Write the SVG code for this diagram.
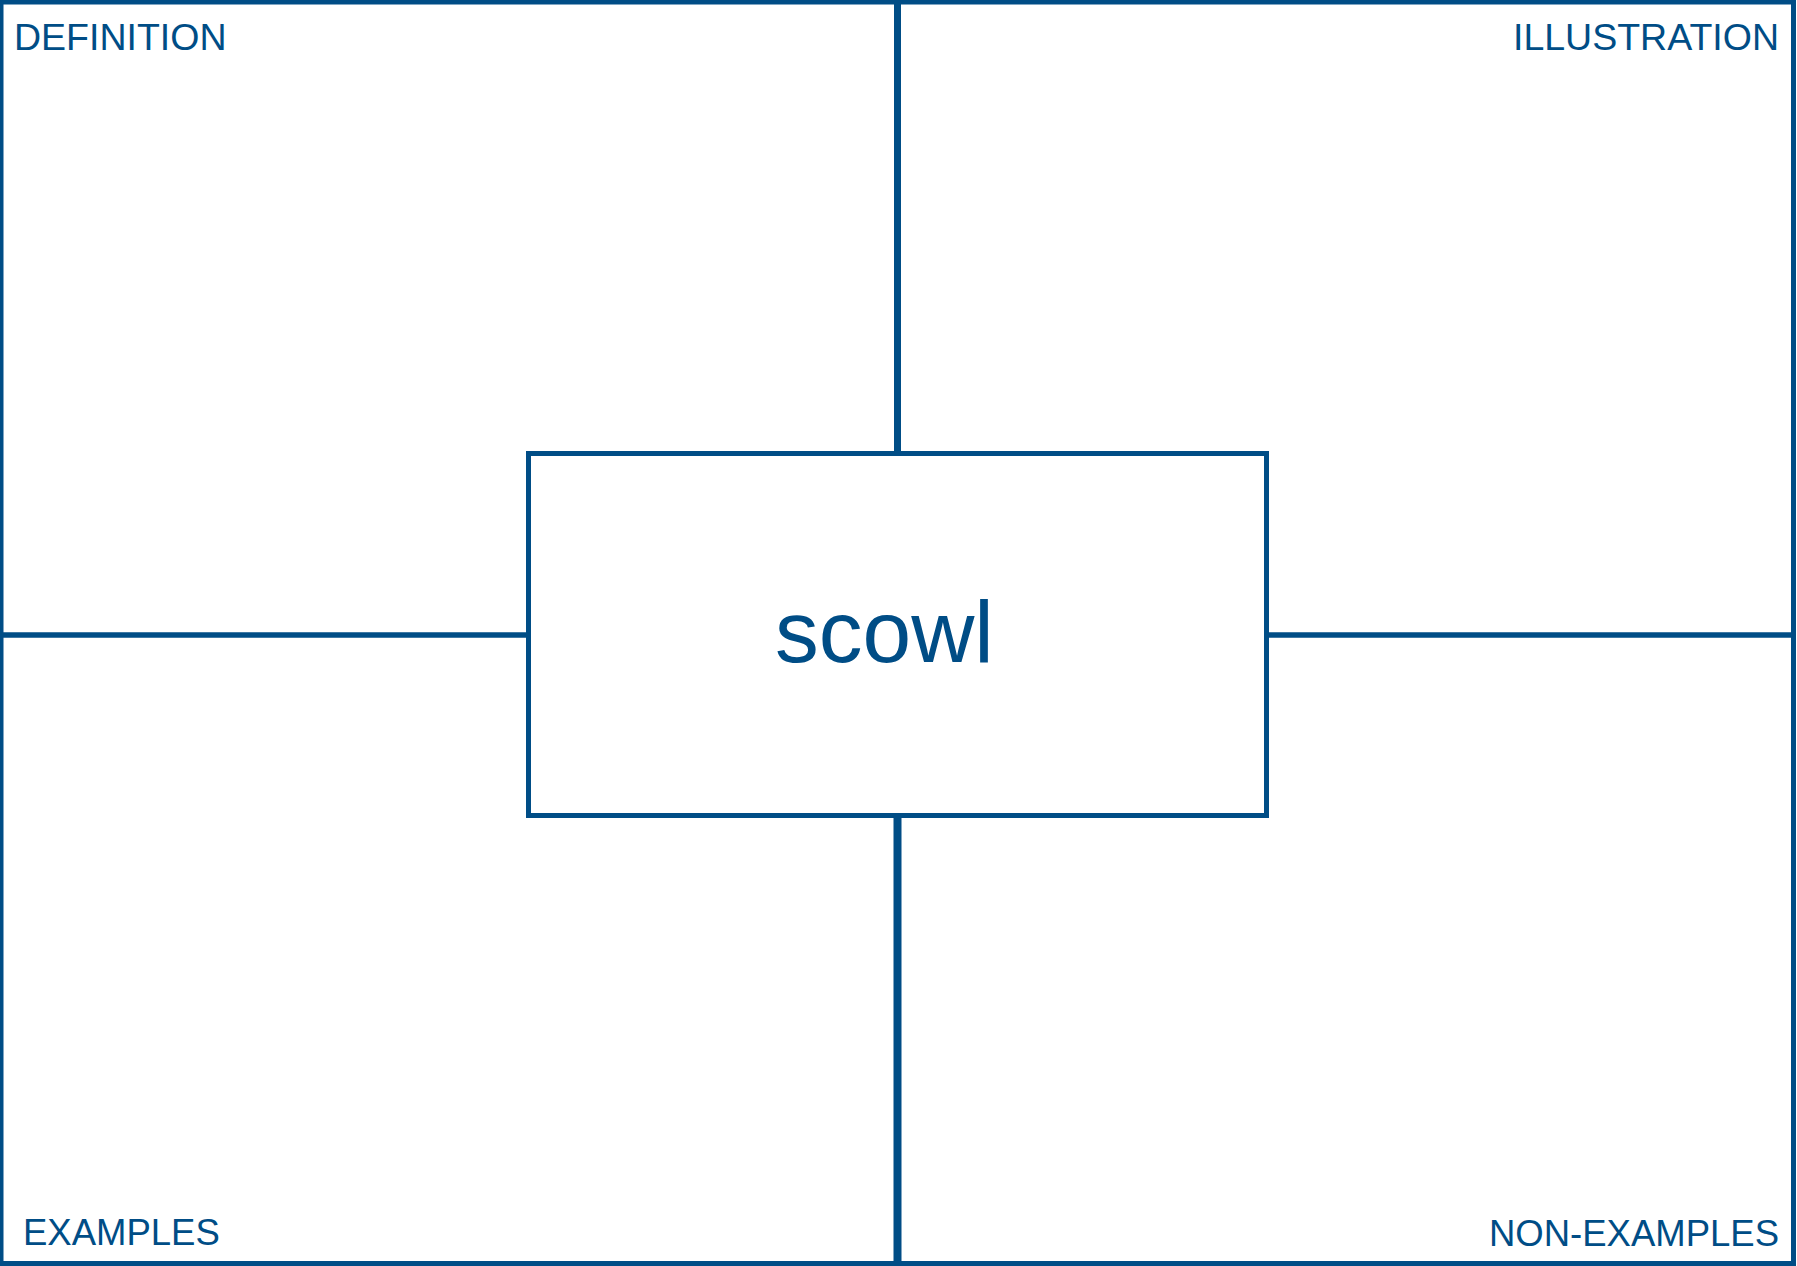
<svg xmlns="http://www.w3.org/2000/svg" width="1797" height="1266" viewBox="0 0 1797 1266">
<style>
.ln{stroke:#004d86;fill:none}
.lbl{font-family:"Liberation Sans",Arial,sans-serif;font-size:37.5px;fill:#004d86}
.lbl2{font-family:"Liberation Sans",Arial,sans-serif;font-size:36.5px;fill:#004d86}
.main{font-family:"Liberation Sans",Arial,sans-serif;font-size:87.5px;fill:#004d86}
</style>
<rect x="0" y="0" width="1797" height="1266" fill="#ffffff"/>
<g id="frame"><rect class="ln" x="1" y="2" width="1792.5" height="1261.5" stroke-width="5"/></g>
<g id="connectors">
<line class="ln" x1="897.5" y1="2" x2="897.5" y2="453.5" stroke-width="7"/>
<line class="ln" x1="897.5" y1="815.5" x2="897.5" y2="1263" stroke-width="8"/>
<line class="ln" x1="1" y1="635" x2="528.5" y2="635" stroke-width="5.5"/>
<line class="ln" x1="1266.5" y1="635" x2="1793.5" y2="635" stroke-width="5.5"/>
</g>
<g id="center"><rect class="ln" x="528.5" y="453.5" width="738" height="362" stroke-width="5" fill="#ffffff"/>
<text class="main" x="775" y="662">scowl</text></g>
<g id="definition"><text class="lbl" x="14" y="50">DEFINITION</text></g>
<g id="illustration"><text class="lbl" x="1779" y="50" text-anchor="end">ILLUSTRATION</text></g>
<g id="examples"><text class="lbl2" x="23" y="1245">EXAMPLES</text></g>
<g id="non-examples"><text class="lbl2" x="1779" y="1246" text-anchor="end">NON-EXAMPLES</text></g>
</svg>
